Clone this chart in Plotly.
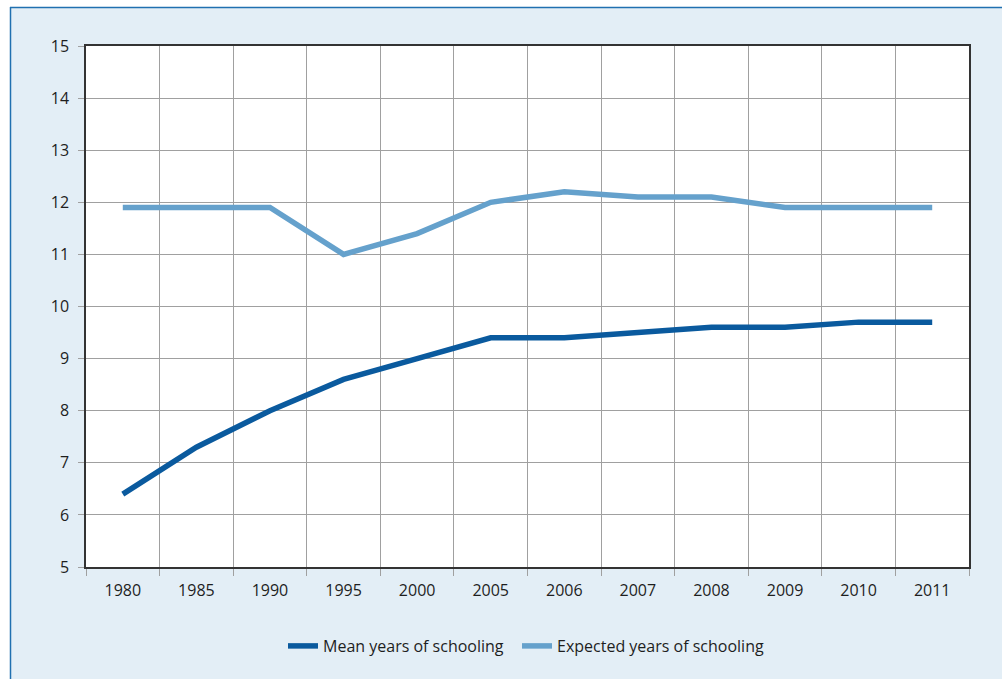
import plotly.graph_objects as go

years = ["1980", "1985", "1990", "1995", "2000", "2005", "2006", "2007", "2008", "2009", "2010", "2011"]
mean_years = [6.4, 7.3, 8.0, 8.6, 9.0, 9.4, 9.4, 9.5, 9.6, 9.6, 9.7, 9.7]
expected_years = [11.9, 11.9, 11.9, 11.0, 11.4, 12.0, 12.2, 12.1, 12.1, 11.9, 11.9, 11.9]
y_ticks = [5, 6, 7, 8, 9, 10, 11, 12, 13, 14, 15]

W, H = 1002, 679
L, R, T, B = 86, 33, 46, 112
pw, ph = W - L - R, H - T - B

def px2x(px):
    return (px - L) / pw

def py2y(py):
    return (H - B - py) / ph

fig = go.Figure()
fig.add_trace(go.Scatter(x=years, y=mean_years, mode="lines", name="Mean years of schooling",
                         line=dict(color="#0a5a9e", width=5.5), legend="legend"))
fig.add_trace(go.Scatter(x=years, y=expected_years, mode="lines", name="Expected years of schooling",
                         line=dict(color="#65a1cc", width=5.5), legend="legend2"))

# white strips outside the framed panel, plus its border lines
fig.add_shape(type="rect", xref="paper", yref="paper",
              x0=px2x(-5), x1=px2x(10), y0=py2y(700), y1=py2y(-5),
              fillcolor="white", line=dict(width=0))
fig.add_shape(type="rect", xref="paper", yref="paper",
              x0=px2x(-5), x1=px2x(1010), y0=py2y(7), y1=py2y(-5),
              fillcolor="white", line=dict(width=0))
fig.add_shape(type="line", xref="paper", yref="paper",
              x0=px2x(10.5), x1=px2x(10.5), y0=py2y(700), y1=py2y(7),
              line=dict(color="#2070b0", width=1.5))
fig.add_shape(type="line", xref="paper", yref="paper",
              x0=px2x(10), x1=px2x(1010), y0=py2y(7.5), y1=py2y(7.5),
              line=dict(color="#2070b0", width=1.5))

legend_common = dict(orientation="h", xanchor="left", y=py2y(646), yanchor="middle",
                     bgcolor="rgba(0,0,0,0)", font=dict(size=16, color="#1e1e1e"))

fig.update_layout(
    width=W, height=H,
    margin=dict(l=L, r=R, t=T, b=B, pad=0),
    paper_bgcolor="#e3eef6",
    plot_bgcolor="white",
    font=dict(family="Open Sans, Lato, sans-serif", size=16, color="#1e1e1e"),
    showlegend=True,
    legend=dict(x=px2x(283), **legend_common),
    legend2=dict(x=px2x(517), **legend_common),
    xaxis=dict(type="category", tickson="boundaries", range=[-0.5, 11.5],
               showgrid=True, gridcolor="#a0a0a0", gridwidth=1,
               showline=True, linecolor="#333", linewidth=1.5, mirror=True,
               ticks="outside", ticklen=7, tickcolor="#a0a0a0", tickwidth=1,
               tickfont=dict(size=16, color="#1e1e1e"), zeroline=False,
               ticklabelstandoff=8),
    yaxis=dict(range=[5, 15], tickvals=y_ticks,
               showgrid=True, gridcolor="#a0a0a0", gridwidth=1,
               showline=True, linecolor="#333", linewidth=1.5, mirror=True,
               ticks="outside", ticklen=6, tickcolor="#a0a0a0", tickwidth=1,
               tickfont=dict(size=16, color="#1e1e1e"), zeroline=False,
               ticklabelstandoff=6),
)

fig.write_html("out.html", config={"displayModeBar": False},
               post_script="document.body.style.margin='0';")
